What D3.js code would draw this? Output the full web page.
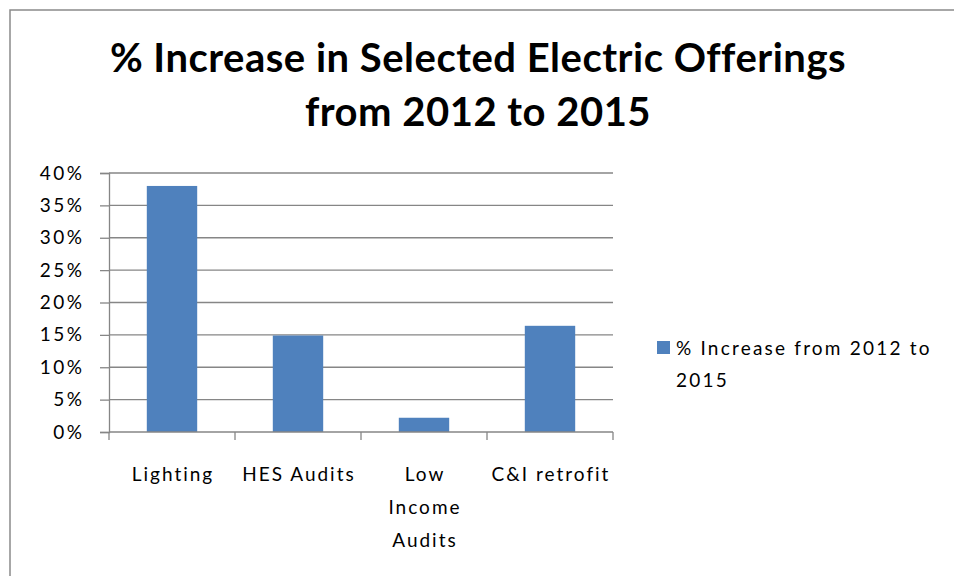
<!DOCTYPE html>
<html>
<head>
<meta charset="utf-8">
<script src="https://cdn.jsdelivr.net/npm/d3@7"></script>
<style>
  html, body { margin: 0; padding: 0; background: #fff; }
  svg { display: block; font-family: Lato, "Open Sans", sans-serif; }
</style>
</head>
<body>
<div id="chart"></div>
<script>
// chart values
const categories = ['Lighting', 'HES Audits', 'Low Income Audits', 'C&I retrofit'];
const values = [0.38, 0.149, 0.022, 0.164];
const yTicks = [0, 0.05, 0.10, 0.15, 0.20, 0.25, 0.30, 0.35, 0.40];
const titleLines = ['% Increase in Selected Electric Offerings', 'from 2012 to 2015'];
const seriesName = ['% Increase from 2012 to', '2015'];
// category labels that Excel wrapped onto several lines
const labelLines = {
  'Low Income Audits': ['Low', 'Income', 'Audits']
};

const W = 954, H = 576;
const plot = { left: 109, right: 613, top: 173, bottom: 432 };
const barColor = '#4f81bd';
const gridColor = '#868686';

const svg = d3.select('#chart').append('svg')
  .attr('width', W).attr('height', H);

// outer chart frame (runs off the right and bottom of the picture)
svg.append('rect')
  .attr('x', 10).attr('y', 10)
  .attr('width', W + 20).attr('height', H + 20)
  .attr('fill', '#fff')
  .attr('stroke', '#8a8a8a')
  .attr('stroke-width', 1.5);

// title
svg.append('g').selectAll('text').data(titleLines)
  .join('text')
  .attr('x', 478)
  .attr('y', (d, i) => 72 + i * 54)
  .attr('text-anchor', 'middle')
  .attr('font-size', 40)
  .attr('font-weight', 'bold')
  .attr('letter-spacing', 0.5)
  .attr('fill', '#000')
  .text(d => d);

const x = d3.scaleBand()
  .domain(categories)
  .range([plot.left, plot.right])
  .paddingInner(0.6)
  .paddingOuter(0.3);

const y = d3.scaleLinear()
  .domain([0, 0.4])
  .range([plot.bottom, plot.top]);

// gridlines
svg.append('g').selectAll('line').data(yTicks.slice(1))
  .join('line')
  .attr('x1', plot.left).attr('x2', plot.right)
  .attr('y1', d => y(d)).attr('y2', d => y(d))
  .attr('stroke', gridColor)
  .attr('stroke-width', 1.3);

// y axis
const yAxis = svg.append('g')
  .attr('transform', `translate(${plot.left},0)`)
  .call(d3.axisLeft(y).tickValues(yTicks).tickFormat(d3.format('.0%')).tickSize(9).tickPadding(15.5));
yAxis.select('.domain').attr('stroke', gridColor).attr('stroke-width', 1.3);
yAxis.selectAll('.tick line').attr('stroke', gridColor).attr('stroke-width', 1.3);
yAxis.selectAll('.tick text')
  .attr('font-size', 19)
  .attr('font-family', 'Lato, sans-serif')
  .attr('letter-spacing', 2.5)
  .attr('fill', '#000');

// bars
svg.append('g').selectAll('rect').data(categories)
  .join('rect')
  .attr('x', d => x(d))
  .attr('width', x.bandwidth())
  .attr('y', (d, i) => y(values[i]))
  .attr('height', (d, i) => y(0) - y(values[i]))
  .attr('fill', barColor);

// x axis line and ticks at category boundaries
const step = x.step();
const boundaries = d3.range(categories.length + 1).map(i => plot.left + i * step);
svg.append('line')
  .attr('x1', plot.left).attr('x2', plot.right)
  .attr('y1', plot.bottom).attr('y2', plot.bottom)
  .attr('stroke', gridColor).attr('stroke-width', 1.3);
svg.append('g').selectAll('line').data(boundaries)
  .join('line')
  .attr('x1', d => d).attr('x2', d => d)
  .attr('y1', plot.bottom).attr('y2', plot.bottom + 8)
  .attr('stroke', gridColor).attr('stroke-width', 1.3);

// category labels
const catLabels = svg.append('g').selectAll('text').data(categories)
  .join('text')
  .attr('x', d => x(d) + x.bandwidth() / 2 + 1)
  .attr('y', 481)
  .attr('text-anchor', 'middle')
  .attr('font-size', 19)
  .attr('letter-spacing', 2)
  .attr('fill', '#000');
catLabels.selectAll('tspan')
  .data(d => labelLines[d] || [d])
  .join('tspan')
  .attr('x', function () { return d3.select(this.parentNode).attr('x'); })
  .attr('dy', (d, i) => i === 0 ? 0 : 33)
  .text(d => d);

// legend
const legend = svg.append('g');
legend.append('rect')
  .attr('x', 657).attr('y', 341)
  .attr('width', 13).attr('height', 13)
  .attr('fill', barColor);
legend.append('text')
  .attr('x', 676).attr('y', 355)
  .attr('font-size', 19)
  .attr('letter-spacing', 2.2)
  .attr('fill', '#000')
  .selectAll('tspan').data(seriesName)
  .join('tspan')
  .attr('x', 676)
  .attr('dy', (d, i) => i === 0 ? 0 : 32)
  .text(d => d);
</script>
</body>
</html>
